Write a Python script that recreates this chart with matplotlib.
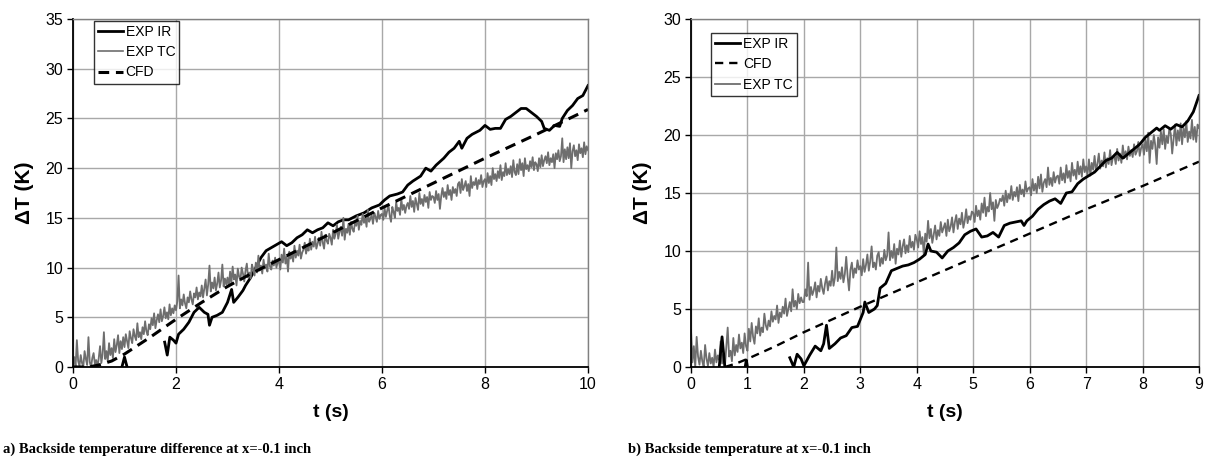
import numpy as np
import matplotlib
matplotlib.use("Agg")
import matplotlib.pyplot as plt

# ---------------- data: panel a ----------------
a_ir_t = [0.95, 1.0, 1.05, np.nan,
          1.78, 1.83, 1.88, 1.95, 2.0, 2.05, 2.15, 2.25, 2.35, 2.45, 2.55, 2.62, 2.65, 2.7, 2.8, 2.9,
          3.0, 3.08, 3.12, 3.2, 3.3, 3.35, 3.45, 3.55, 3.65, 3.75, 3.85, 3.95, 4.05, 4.15, 4.25, 4.35,
          4.45, 4.55, 4.65, 4.75, 4.85, 4.95, 5.05, 5.15, 5.25, 5.35, 5.5, 5.65, 5.8, 5.95, 6.05, 6.15,
          6.3, 6.4, 6.5, 6.6, 6.75, 6.85, 6.95, 7.05, 7.2, 7.3, 7.4, 7.5, 7.55, 7.65, 7.75, 7.9, 8.0,
          8.1, 8.2, 8.3, 8.4, 8.5, 8.6, 8.7, 8.8, 8.9, 9.0, 9.1, 9.15, 9.25, 9.35, 9.45, 9.5, 9.6, 9.7,
          9.8, 9.9, 10.0]
a_ir_v = [0.0, 1.0, 0.0, np.nan,
          2.5, 1.2, 3.0, 2.7, 2.4, 3.3, 3.8, 4.5, 5.5, 6.0, 5.5, 5.3, 4.2, 5.0, 5.2, 5.5,
          6.5, 7.8, 6.5, 7.0, 7.7, 8.2, 9.0, 10.0, 11.0, 11.7, 12.0, 12.3, 12.6, 12.2, 12.5, 13.0,
          13.3, 13.8, 13.5, 13.8, 14.0, 14.5, 14.2, 14.6, 14.8, 14.8, 15.2, 15.5, 16.0, 16.3, 16.8, 17.2,
          17.4, 17.6, 18.3, 18.7, 19.2, 20.0, 19.7, 20.3, 21.0, 21.6, 22.0, 22.7, 22.0, 23.0, 23.4, 23.8, 24.3,
          23.9, 24.0, 24.0, 24.9, 25.2, 25.6, 26.0, 26.0, 25.6, 25.2, 24.7, 24.0, 23.8, 24.3, 24.2, 25.0, 25.8, 26.3,
          27.0, 27.3, 28.3]

a_cfd_t = [0, 0.3, 0.5, 0.75, 1, 1.5, 2, 2.5, 3, 3.5, 4, 5, 6, 7, 8, 9, 10]
a_cfd_v = [0, 0, 0.2, 0.6, 1.3, 3.0, 4.8, 6.5, 8.1, 9.5, 10.8, 13.4, 16.0, 18.5, 21.0, 23.4, 25.9]

# EXP TC, evenly sampled over 0..10 s
a_tc_v = [0.3, 1.0, 0.0, 2.7, 0.6, 0.1, 1.2, 0.4, 0.0, 1.6, 0.8, 0.2, 3.0, 0.5, 0.0, 0.9, 1.4, 0.3, 0.7, 0.0,
          0.9, 2.1, 0.4, 1.3, 3.5, 0.8, 1.6, 0.6, 2.4, 1.2, 1.9, 0.9, 2.8, 1.5, 2.2, 3.2, 1.4, 2.6, 1.8, 3.0,
          2.0, 3.3, 2.6, 1.9, 3.6, 2.9, 2.4, 3.8, 3.1, 2.7, 4.4, 3.0, 3.5, 2.8, 4.0, 3.3, 4.6, 3.6, 3.2, 4.3,
          3.8, 4.9, 4.2, 5.4, 3.9, 4.7, 5.3, 4.5, 5.8, 4.6, 5.1, 6.0, 4.9, 5.5, 4.8, 6.3, 5.2, 5.9, 5.4, 6.2,
          5.7, 6.6, 9.2, 5.9, 6.8, 6.2, 7.3, 6.4, 5.9, 7.0, 6.5, 7.6, 6.8, 6.3, 7.4, 7.0, 8.0, 6.8, 7.5, 7.1,
          8.2, 7.0, 7.9, 8.8, 7.2, 8.3, 10.2, 7.6, 8.5, 7.9, 9.0, 7.7, 8.4, 9.5, 8.0, 8.7, 10.3, 8.1, 8.9, 8.3,
          9.0, 8.1, 9.6, 8.4, 10.1, 8.8, 9.3, 8.2, 9.9, 9.1, 8.7, 10.0, 9.4, 8.6, 9.7, 10.4, 9.0, 9.5, 8.9, 10.3,
          9.8, 9.2, 10.5, 9.5, 11.2, 9.7, 10.2, 9.4, 10.8, 9.9, 10.3, 9.6, 11.4, 10.1, 9.8, 10.7, 10.2, 11.0, 10.0, 10.6,
          10.6, 9.8, 11.3, 10.5, 11.9, 10.4, 11.1, 9.6, 11.6, 10.9, 11.4, 10.6, 12.2, 11.0, 11.7, 11.2, 12.3, 10.9, 11.5, 11.8,
          12.5, 11.4, 12.0, 11.7, 12.9, 11.8, 12.6, 12.1, 13.1, 11.9, 12.4, 13.0, 12.2, 13.6, 12.5, 11.9, 13.3, 12.7, 12.4, 13.4,
          13.0, 12.3, 13.8, 12.9, 13.4, 14.3, 12.9, 13.6, 14.1, 13.2, 15.0, 12.8, 13.9, 13.5, 14.4, 13.3, 14.6, 13.9, 13.6, 14.5,
          14.2, 15.2, 13.8, 14.7, 14.3, 15.4, 14.5, 15.0, 14.1, 15.8, 14.6, 14.9, 15.3, 14.4, 15.5, 15.1, 14.6, 15.7, 14.9, 15.3,
          15.4, 14.8, 16.0, 15.1, 15.7, 16.3, 15.2, 14.6, 16.1, 15.6, 15.0, 16.6, 15.7, 16.0, 15.3, 16.9, 15.8, 16.3, 15.5, 16.2,
          16.5, 15.9, 17.2, 16.1, 16.7, 15.6, 17.0, 16.4, 15.8, 17.5, 16.4, 16.9, 16.2, 17.3, 16.6, 17.1, 16.0, 17.6, 16.8, 17.2,
          17.1, 16.5, 17.7, 16.8, 17.4, 15.9, 17.2, 18.0, 17.1, 17.6, 16.9, 18.3, 17.3, 17.8, 16.8, 18.1, 17.5, 17.9, 17.2, 18.4,
          18.6, 17.5, 18.9, 17.8, 18.2, 18.7, 17.7, 18.4, 17.2, 19.2, 18.0, 18.6, 18.3, 19.0, 17.9, 18.8, 18.4, 19.3, 18.1, 18.7,
          18.9, 18.1, 19.5, 18.5, 19.2, 18.3, 20.0, 18.9, 19.4, 18.7, 19.7, 19.0, 20.3, 18.8, 19.6, 19.2, 20.5, 19.3, 19.9, 19.4,
          20.2, 19.1, 20.8, 19.6, 19.3, 20.4, 19.4, 20.9, 19.8, 20.5, 19.2, 21.0, 19.9, 20.3, 19.7, 20.7, 20.1, 21.1, 19.8, 20.6,
          20.4, 19.7, 21.0, 20.1, 21.3, 20.2, 20.8, 21.2, 20.5, 21.6, 20.3, 21.0, 20.6, 21.4, 20.0, 21.5, 20.9, 21.8, 20.7, 21.2,
          23.0, 20.6, 21.9, 20.9, 22.1, 21.0, 22.5, 20.0, 21.7, 22.3, 21.2, 21.8, 20.8, 22.4, 21.5, 22.0, 21.1, 22.6, 21.4, 22.2,
          21.8]

# ---------------- data: panel b ----------------
b_ir_t = [0.5, 0.55, 0.6, np.nan, 0.96, 0.98, 1.0, np.nan,
          1.75, 1.82, 1.88, 1.95, 2.0, 2.1, 2.2, 2.3, 2.35, 2.4, 2.45, 2.55, 2.65, 2.75, 2.85, 2.95,
          3.05, 3.08, 3.15, 3.25, 3.3, 3.35, 3.45, 3.55, 3.65, 3.75, 3.85, 3.95, 4.05, 4.15, 4.2, 4.25,
          4.35, 4.45, 4.55, 4.65, 4.75, 4.85, 4.95, 5.05, 5.15, 5.25, 5.35, 5.45, 5.55, 5.65, 5.75, 5.85,
          5.9, 5.95, 6.05, 6.15, 6.25, 6.35, 6.45, 6.55, 6.65, 6.75, 6.85, 6.95, 7.05, 7.15, 7.25, 7.35,
          7.45, 7.55, 7.65, 7.75, 7.85, 7.95, 8.05, 8.15, 8.25, 8.3, 8.4, 8.5, 8.6, 8.7, 8.8, 8.9, 9.0]
b_ir_v = [0.0, 2.6, 0.0, np.nan, 0.0, 0.6, 0.0, np.nan,
          0.8, 0.0, 1.1, 0.7, 0.1, 1.0, 1.8, 1.4, 2.0, 3.6, 1.6, 2.0, 2.5, 2.7, 3.4, 3.5,
          4.7, 5.6, 4.7, 5.0, 5.3, 6.8, 7.2, 8.3, 8.5, 8.7, 8.8, 9.0, 9.3, 9.7, 10.6, 10.0,
          9.9, 9.4, 10.0, 10.3, 10.7, 11.4, 11.7, 11.9, 11.2, 11.3, 11.6, 11.2, 12.2, 12.4, 12.5, 12.6,
          12.2, 12.6, 13.0, 13.6, 14.0, 14.3, 14.5, 14.1, 15.0, 15.1, 15.8, 16.2, 16.5, 16.8, 17.3, 17.8,
          18.0, 18.5, 18.0, 18.4, 18.8, 19.2, 19.8, 20.2, 20.6, 20.4, 20.8, 20.5, 20.9, 20.7, 21.2, 22.0, 23.4]

b_cfd_t = [0.6, 0.8, 1, 1.5, 2, 3, 4, 5, 6, 7, 8, 9]
b_cfd_v = [0, 0.3, 0.7, 1.8, 3.0, 5.2, 7.3, 9.4, 11.5, 13.6, 15.6, 17.7]

# EXP TC, evenly sampled over 0..9 s
b_tc_v = [3.2, 0.4, 1.8, 0.0, 2.6, 0.9, 0.2, 1.4, 0.5, 0.0, 1.9, 0.7, 0.1, 1.2, 0.3, 0.8, 0.0, 1.5, 0.4, 1.0,
          0.6, 2.2, 0.3, 1.1, 0.0, 1.7, 3.4, 0.9, 1.4, 0.5, 2.5, 1.0, 1.9, 1.3, 2.8, 1.6, 2.1, 1.2, 2.9, 1.8,
          1.4, 3.3, 2.2, 3.8, 2.6, 2.0, 3.5, 2.9, 4.2, 2.7, 3.4, 3.0, 4.6, 3.6, 3.2, 4.0, 3.5, 4.8, 3.9, 4.4,
          4.1, 5.3, 3.8, 4.7, 4.3, 5.2, 4.6, 5.9, 4.4, 5.0, 5.6, 4.8, 6.7, 5.2, 5.7, 5.0, 6.3, 5.5, 6.0, 5.6,
          5.6, 6.7, 6.1, 9.0, 5.8, 6.9, 6.2, 6.6, 7.3, 6.0, 7.0, 6.5, 7.6, 6.8, 6.3, 7.2, 7.8, 6.6, 7.4, 7.0,
          8.3, 7.0, 7.7, 10.3, 7.4, 8.2, 7.6, 8.6, 7.3, 8.0, 9.5, 7.8, 6.6, 8.4, 9.0, 7.7, 8.5, 8.1, 9.2, 8.4,
          8.7, 7.9, 9.3, 8.2, 8.8, 9.7, 8.3, 9.1, 10.4, 8.6, 9.0, 8.4, 9.6, 9.9, 8.7, 9.4, 8.9, 10.1, 9.2, 9.6,
          11.6, 9.2, 10.0, 9.4, 10.6, 8.9, 10.2, 9.7, 10.9, 9.5, 10.4, 11.0, 9.8, 10.5, 9.9, 11.3, 10.3, 10.8, 10.1, 11.4,
          11.0, 10.3, 11.7, 10.6, 11.2, 9.7, 11.5, 10.8, 12.6, 11.1, 11.9, 10.7, 11.4, 12.2, 11.0, 11.8, 11.3, 12.5, 11.6, 12.0,
          12.4, 11.3, 12.7, 11.7, 12.1, 12.9, 11.6, 12.5, 13.1, 11.9, 12.8, 12.3, 13.3, 12.0, 12.6, 13.6, 12.4, 13.0, 12.7, 13.4,
          13.3, 12.5, 13.9, 13.0, 13.5, 12.7, 14.1, 13.3, 14.6, 13.0, 13.8, 13.4, 15.0, 13.6, 14.2, 12.6, 14.4, 13.7, 14.0, 14.5,
          14.3, 14.8, 13.9, 15.2, 14.2, 14.9, 14.5, 15.6, 14.4, 15.1, 14.7, 15.5, 14.3, 15.7, 14.9, 15.3, 14.7, 16.0, 15.1, 15.4,
          15.5, 14.8, 16.2, 15.2, 15.8, 15.0, 16.4, 15.4, 16.6, 15.1, 15.9, 16.2, 15.5, 17.2, 15.7, 16.3, 15.6, 16.8, 15.9, 16.4,
          16.5, 15.8, 17.2, 16.1, 16.7, 15.9, 17.4, 16.3, 16.9, 16.0, 17.6, 16.5, 17.0, 16.2, 17.7, 16.6, 17.3, 16.4, 17.9, 16.8,
          17.3, 16.6, 17.9, 16.5, 17.6, 17.0, 18.2, 16.9, 17.5, 18.4, 17.1, 17.8, 17.3, 18.5, 17.2, 18.0, 17.5, 18.7, 17.4, 18.1,
          18.2, 17.5, 18.8, 17.8, 18.4, 17.6, 19.1, 18.0, 18.6, 17.9, 19.0, 18.2, 18.7, 18.1, 19.2, 18.3, 18.6, 19.4, 18.2, 18.9,
          19.2, 18.3, 19.6, 18.6, 20.2, 17.6, 19.5, 18.8, 20.0, 19.1, 17.5, 19.8, 18.9, 20.3, 19.2, 20.5, 18.8, 19.9, 19.3, 20.6,
          20.1, 18.4, 19.7, 20.9, 19.1, 20.4, 19.5, 21.0, 19.2, 20.6, 19.8, 21.2, 19.4, 20.3, 19.7, 21.3, 19.6, 20.7, 19.4, 20.9,
          20.6]

a_xticks = [0, 2, 4, 6, 8, 10]
a_yticks = [0, 5, 10, 15, 20, 25, 30, 35]
b_xticks = [0, 1, 2, 3, 4, 5, 6, 7, 8, 9]
b_yticks = [0, 5, 10, 15, 20, 25, 30]
xlabel = "t (s)"
ylabel = "ΔT (K)"
cap_a = "a) Backside temperature difference at x=-0.1 inch"
cap_b = "b) Backside temperature at x=-0.1 inch"

# ---------------- figure ----------------
plt.rcParams['font.family'] = ['Liberation Sans', 'DejaVu Sans']
fig = plt.figure(figsize=(12.06, 4.58), dpi=100)

ax1 = fig.add_axes([73/1206, 1-367/458, (588-73)/1206, (367-19)/458])
ax2 = fig.add_axes([691/1206, 1-367/458, (1199-691)/1206, (367-19)/458])

TC_COLOR = '#6e6e6e'


def style(ax, xt, yt, xmax, ymax):
    ax.set_xlim(0, xmax)
    ax.set_ylim(0, ymax)
    ax.set_xticks(xt)
    ax.set_yticks(yt)
    ax.grid(True, color='#a8a8a8', lw=1.0)
    ax.set_axisbelow(True)
    for s in ['top', 'right']:
        ax.spines[s].set_color('#808080')
        ax.spines[s].set_linewidth(1.0)
    for s in ['left', 'bottom']:
        ax.spines[s].set_color('black')
        ax.spines[s].set_linewidth(1.3)
    ax.tick_params(direction='out', length=4, width=1, labelsize=11.5, pad=3)
    ax.set_xlabel(xlabel, fontsize=14, fontweight='bold', labelpad=9)
    ax.set_ylabel(ylabel, fontsize=15, fontweight='bold', labelpad=8)


# panel a
l_ir, = ax1.plot(a_ir_t, a_ir_v, color='black', lw=2.0, label='EXP IR')
l_tc, = ax1.plot(np.linspace(0, 10, len(a_tc_v)), a_tc_v, color=TC_COLOR, lw=1.3, label='EXP TC')
l_cfd, = ax1.plot(a_cfd_t, a_cfd_v, color='black', lw=2.2, ls=(0, (3.5, 2.2)), label='CFD')
style(ax1, a_xticks, a_yticks, 10, 35)
leg1 = ax1.legend(handles=[l_ir, l_tc, l_cfd], loc='upper left', bbox_to_anchor=(0.04, 0.995),
                  fontsize=10, frameon=True, fancybox=False, edgecolor='black', handlelength=1.8,
                  handletextpad=0.2, borderpad=0.3, labelspacing=0.45, borderaxespad=0.0)
leg1.get_frame().set_linewidth(1.0)
ax1.legend_.get_lines()[1].set_linewidth(1.2)

# panel b
m_tc, = ax2.plot(np.linspace(0, 9, len(b_tc_v)), b_tc_v, color=TC_COLOR, lw=1.3, label='EXP TC')
m_ir, = ax2.plot(b_ir_t, b_ir_v, color='black', lw=2.0, label='EXP IR')
m_cfd, = ax2.plot(b_cfd_t, b_cfd_v, color='black', lw=1.7, ls=(0, (3.5, 2.5)), label='CFD')
style(ax2, b_xticks, b_yticks, 9, 30)
leg2 = ax2.legend(handles=[m_ir, m_cfd, m_tc], loc='upper left', bbox_to_anchor=(0.04, 0.96),
                  fontsize=10, frameon=True, fancybox=False, edgecolor='black', handlelength=1.8,
                  handletextpad=0.2, borderpad=0.3, labelspacing=0.45, borderaxespad=0.0)
leg2.get_frame().set_linewidth(1.0)

fig.text(3/1206, 1-449/458, cap_a, family='Liberation Serif', fontweight='bold', fontsize=10.5,
         ha='left', va='center')
fig.text(628/1206, 1-449/458, cap_b, family='Liberation Serif', fontweight='bold', fontsize=10.5,
         ha='left', va='center')

fig.savefig('out.png', dpi=100)
